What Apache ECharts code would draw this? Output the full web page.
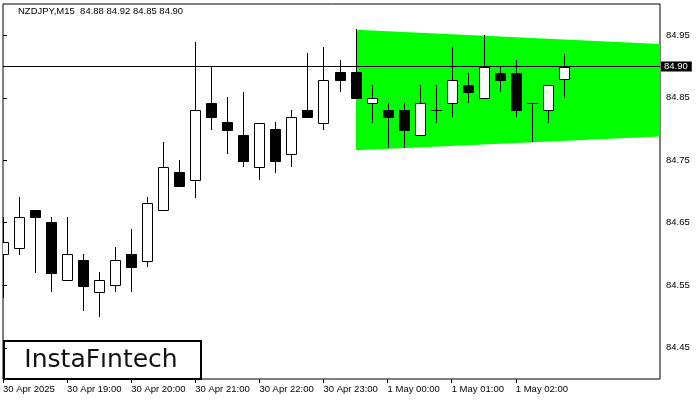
<!DOCTYPE html>
<html>
<head>
<meta charset="utf-8">
<script src="https://cdn.jsdelivr.net/npm/echarts@6/dist/echarts.min.js"></script>
<style>html,body{margin:0;padding:0;background:#fff}#c{width:700px;height:400px}</style>
</head>
<body>
<div id="c"></div>
<script>
// NZDJPY M15, 30 Apr 2025 18:00 .. 1 May 02:45
const opens  = [84.600,84.610,84.670,84.651,84.559,84.590,84.540,84.550,84.600,84.589,84.670,84.731,84.719,84.842,84.811,84.790,84.739,84.800,84.760,84.830,84.810,84.891,84.891,84.841,84.830,84.830,84.790,84.830,84.841,84.870,84.850,84.890,84.890,84.841,84.830,84.880];
const closes = [84.620,84.660,84.659,84.570,84.600,84.549,84.559,84.590,84.579,84.681,84.740,84.709,84.830,84.819,84.799,84.749,84.810,84.749,84.820,84.819,84.879,84.879,84.850,84.850,84.820,84.799,84.841,84.830,84.879,84.860,84.900,84.879,84.830,84.841,84.870,84.900];
const highs  = [84.660,84.691,84.670,84.660,84.660,84.600,84.571,84.611,84.640,84.691,84.780,84.750,84.940,84.900,84.851,84.860,84.810,84.811,84.830,84.921,84.931,84.910,84.960,84.870,84.841,84.841,84.870,84.870,84.931,84.890,84.950,84.900,84.910,84.841,84.870,84.920];
const lows   = [84.530,84.598,84.570,84.539,84.559,84.509,84.499,84.539,84.539,84.579,84.670,84.709,84.690,84.799,84.760,84.739,84.719,84.730,84.739,84.819,84.799,84.859,84.850,84.810,84.770,84.770,84.790,84.810,84.820,84.841,84.850,84.860,84.820,84.779,84.810,84.850];

const timeTickIdx = [0,4,8,12,16,20,24,28,32];
const timeLabels  = ['30 Apr 2025','30 Apr 19:00','30 Apr 20:00','30 Apr 21:00','30 Apr 22:00','30 Apr 23:00','1 May 00:00','1 May 01:00','1 May 02:00'];
const yTicks = [84.45,84.55,84.65,84.75,84.85,84.95];

// pennant band (bar index, top price, bottom price)
const bandIdx    = [22, 41];
const bandTop    = [84.959, 84.936];
const bandBottom = [84.766, 84.788];

const titleText = 'NZDJPY,M15  84.88 84.92 84.85 84.90';
const logoText = 'InstaF\u0131ntech';

const candleRows = opens.map((o, i) => [i, o, closes[i], lows[i], highs[i]]);
const lastClose = closes[closes.length - 1];
const FONT = 'Liberation Sans';

const chart = echarts.init(document.getElementById('c'), null, {renderer: 'canvas'});
chart.setOption({
  animation: false,
  backgroundColor: '#fff',
  title: {
    text: titleText, left: 18, top: 6, padding: 0,
    textStyle: {fontSize: 9.5, fontWeight: 'normal', color: '#000', fontFamily: FONT}
  },
  grid: {left: 3, right: 40, top: 4, bottom: 21, show: true, borderColor: '#000', borderWidth: 1, backgroundColor: '#fff'},
  xAxis: {
    type: 'value', min: 0, max: 41,
    axisLine: {show: false}, splitLine: {show: false},
    axisTick: {show: true, customValues: timeTickIdx, length: 4, lineStyle: {color: '#000'}},
    axisLabel: {
      customValues: timeTickIdx, align: 'left', margin: 5,
      fontSize: 9.5, color: '#000', fontFamily: FONT,
      formatter: v => { const k = timeTickIdx.indexOf(Math.round(v)); return k >= 0 ? timeLabels[k] : ''; }
    }
  },
  yAxis: {
    type: 'value', position: 'right', min: 84.40, max: 85.00,
    axisLine: {show: false}, splitLine: {show: false},
    axisTick: {show: true, customValues: yTicks, length: 4, lineStyle: {color: '#000'}},
    axisLabel: {customValues: yTicks, margin: 6, fontSize: 9.5, color: '#000', fontFamily: FONT,
      formatter: v => v.toFixed(2)}
  },
  series: [
    {
      type: 'custom', z: 1, clip: true,
      data: [[bandIdx[0], bandTop[0], bandBottom[0]]],
      renderItem: (params, api) => {
        const p1 = api.coord([bandIdx[0], bandTop[0]]);
        const p2 = api.coord([bandIdx[1], bandTop[1]]);
        const p3 = api.coord([bandIdx[1], bandBottom[1]]);
        const p4 = api.coord([bandIdx[0], bandBottom[0]]);
        const x0 = Math.round(p1[0]);
        return {type: 'polygon', shape: {points: [[x0, p1[1]], p2, p3, [x0, p4[1]]]},
          style: {fill: '#00ff00'}};
      }
    },
    {
      type: 'custom', z: 3, clip: true,
      data: candleRows,
      encode: {x: 0, y: [1, 2, 3, 4]},
      renderItem: (params, api) => {
        const i = api.value(0), o = api.value(1), c = api.value(2), l = api.value(3), h = api.value(4);
        const pO = api.coord([i, o]), pC = api.coord([i, c]);
        const yH = api.coord([i, h])[1], yL = api.coord([i, l])[1];
        const cx = Math.round(pO[0]);
        const x = cx + 0.5;
        const yTop = Math.round(Math.min(pO[1], pC[1]));
        const yBot = Math.round(Math.max(pO[1], pC[1]));
        const children = [{type: 'line', shape: {x1: x, y1: Math.round(yH), x2: x, y2: Math.round(yL)}, style: {stroke: '#000', lineWidth: 1}}];
        if (yBot - yTop < 1) {
          children.push({type: 'line', shape: {x1: cx - 5, y1: yTop + 0.5, x2: cx + 6, y2: yTop + 0.5}, style: {stroke: '#000', lineWidth: 1}});
        } else {
          const bull = c > o;
          children.push({type: 'rect', shape: {x: cx - 4.5, y: yTop + 0.5, width: 10, height: yBot - yTop},
            style: {fill: bull ? '#fff' : '#000', stroke: '#000', lineWidth: 1}});
        }
        return {type: 'group', children};
      },
      markLine: {
        silent: true, symbol: ['none', 'none'], animation: false,
        lineStyle: {color: '#000', width: 1, type: 'solid'},
        label: {
          show: true, position: 'end', distance: 1,
          formatter: p => Number(p.value).toFixed(2),
          color: '#fff', backgroundColor: '#000', fontSize: 9.5, fontFamily: FONT,
          lineHeight: 10, padding: [0, 4, 0, 3]
        },
        data: [{yAxis: lastClose}]
      }
    }
  ],
  graphic: [
    {
      type: 'group', z: 100,
      children: [
        {type: 'rect', shape: {x: 4, y: 341, width: 197, height: 38}, style: {fill: '#fff', stroke: '#000', lineWidth: 2}},
        {type: 'text', x: 101, y: 360, style: {text: logoText, fill: '#111', font: '500 25px "DejaVu Sans"', textAlign: 'center', textVerticalAlign: 'middle'}}
      ]
    }
  ]
});
</script>
</body>
</html>
